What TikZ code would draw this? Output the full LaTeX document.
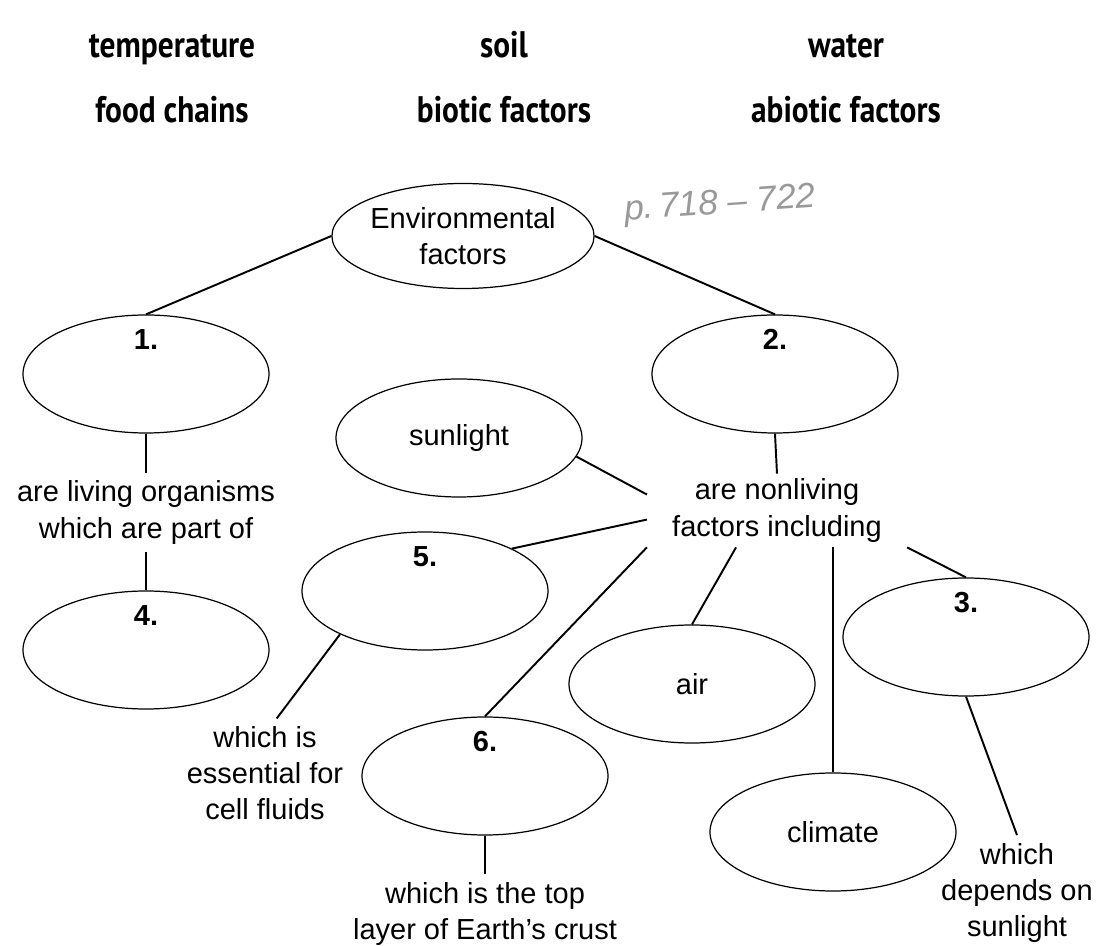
\documentclass[tikz,border=0pt]{standalone}
\usepackage{fontspec}
\setmainfont{Liberation Sans}
\newfontfamily\wordfont[FakeStretch=0.85]{PT Sans}
\usetikzlibrary{shapes.geometric}
\usetikzlibrary{calc}
\newcommand{\bubble}[4][]{\node(#2)[bubble,#1] at (#3) {#4}}
\newcommand{\bubblenum}[2]{\node(#1num)[num] at ([yshift=-5mm]#1.north) {#2}}
\newcommand{\wordnode}[3]{\node(#1)[word] at (#2) {#3}}

\begin{document}
\begin{tikzpicture}[
    every node/.style={font=\fontsize{16.5}{20.5}\selectfont},
    bubble/.style={ellipse,draw=black,line width=0.7pt,minimum width=4.92cm,
                   minimum height=2.36cm,inner sep=0pt,align=center},
    num/.style={font=\fontsize{16.5}{20.5}\selectfont\bfseries},
    phrase/.style={align=center,inner xsep=1mm,inner ysep=1.6mm},
    word/.style={anchor=base,font=\wordfont\fontsize{21}{24}\selectfont\bfseries},
    note/.style={text=black!40,rotate=4,font=\fontsize{20}{24}\selectfont\itshape},
    link/.style={draw=black,line width=1.1pt}
  ]
  \useasboundingbox (0,0) rectangle (21.96,-18.92);

  \wordnode{temperature}{3.44,-1.16}{temperature};
  \wordnode{soil}{10.08,-1.16}{soil};
  \wordnode{water}{16.92,-1.16}{water};
  \wordnode{foodchains}{3.44,-2.46}{food chains};
  \wordnode{biotic}{10.08,-2.46}{biotic factors};
  \wordnode{abiotic}{16.92,-2.46}{abiotic factors};

  \node(pages)[note] at (14.4,-4.1) {p.\,718 -- 722};

  \bubble[minimum width=4.8cm,minimum height=2.1cm]{env}{9.26,-4.72}{Environmental\\factors};
  \bubble{one}{2.92,-7.48}{};
  \bubble{two}{15.50,-7.48}{};
  \bubble{sun}{9.18,-8.76}{sunlight};
  \bubble{five}{8.50,-11.82}{};
  \bubble{four}{2.92,-13.00}{};
  \bubble{air}{13.84,-13.68}{air};
  \bubble{three}{19.32,-12.74}{};
  \bubble{six}{9.70,-15.52}{};
  \bubble{climate}{16.66,-16.64}{climate};

  \bubblenum{one}{1.};
  \bubblenum{two}{2.};
  \bubblenum{three}{3.};
  \bubblenum{four}{4.};
  \bubblenum{five}{5.};
  \bubblenum{six}{6.};

  \node(living)[phrase] at (2.92,-10.25) {are living organisms\\which are part of};
  \node(nonliving)[phrase,inner xsep=5mm,inner ysep=1mm] at (15.54,-10.21) {are nonliving\\factors including};
  \node(fluids)[phrase] at (5.30,-15.47) {which is\\essential for\\cell fluids};
  \node(crust)[phrase] at (9.70,-18.28) {which is the top\\layer of Earth’s crust};
  \node(depends)[phrase] at (20.34,-17.86) {which\\depends on\\sunlight};

  \path[link]
    (env.west) edge (one.north)
    (env.east) edge (two.north)
    (one.south) edge (living.north)
    (living.south) edge (four.north)
    (two.south) edge (nonliving.north)
    (sun.-9) edge (nonliving.173)
    (nonliving.184) edge (five.26)
    (nonliving.south west) edge (six.north)
    (nonliving.222) edge (air.north)
    (climate.north |- nonliving.south) edge (climate.north)
    (nonliving.south east) edge (three.north)
    (five.207) edge (fluids.78)
    (six.south) edge (crust.north)
    (three.south) edge (depends.north);
\end{tikzpicture}
\end{document}
